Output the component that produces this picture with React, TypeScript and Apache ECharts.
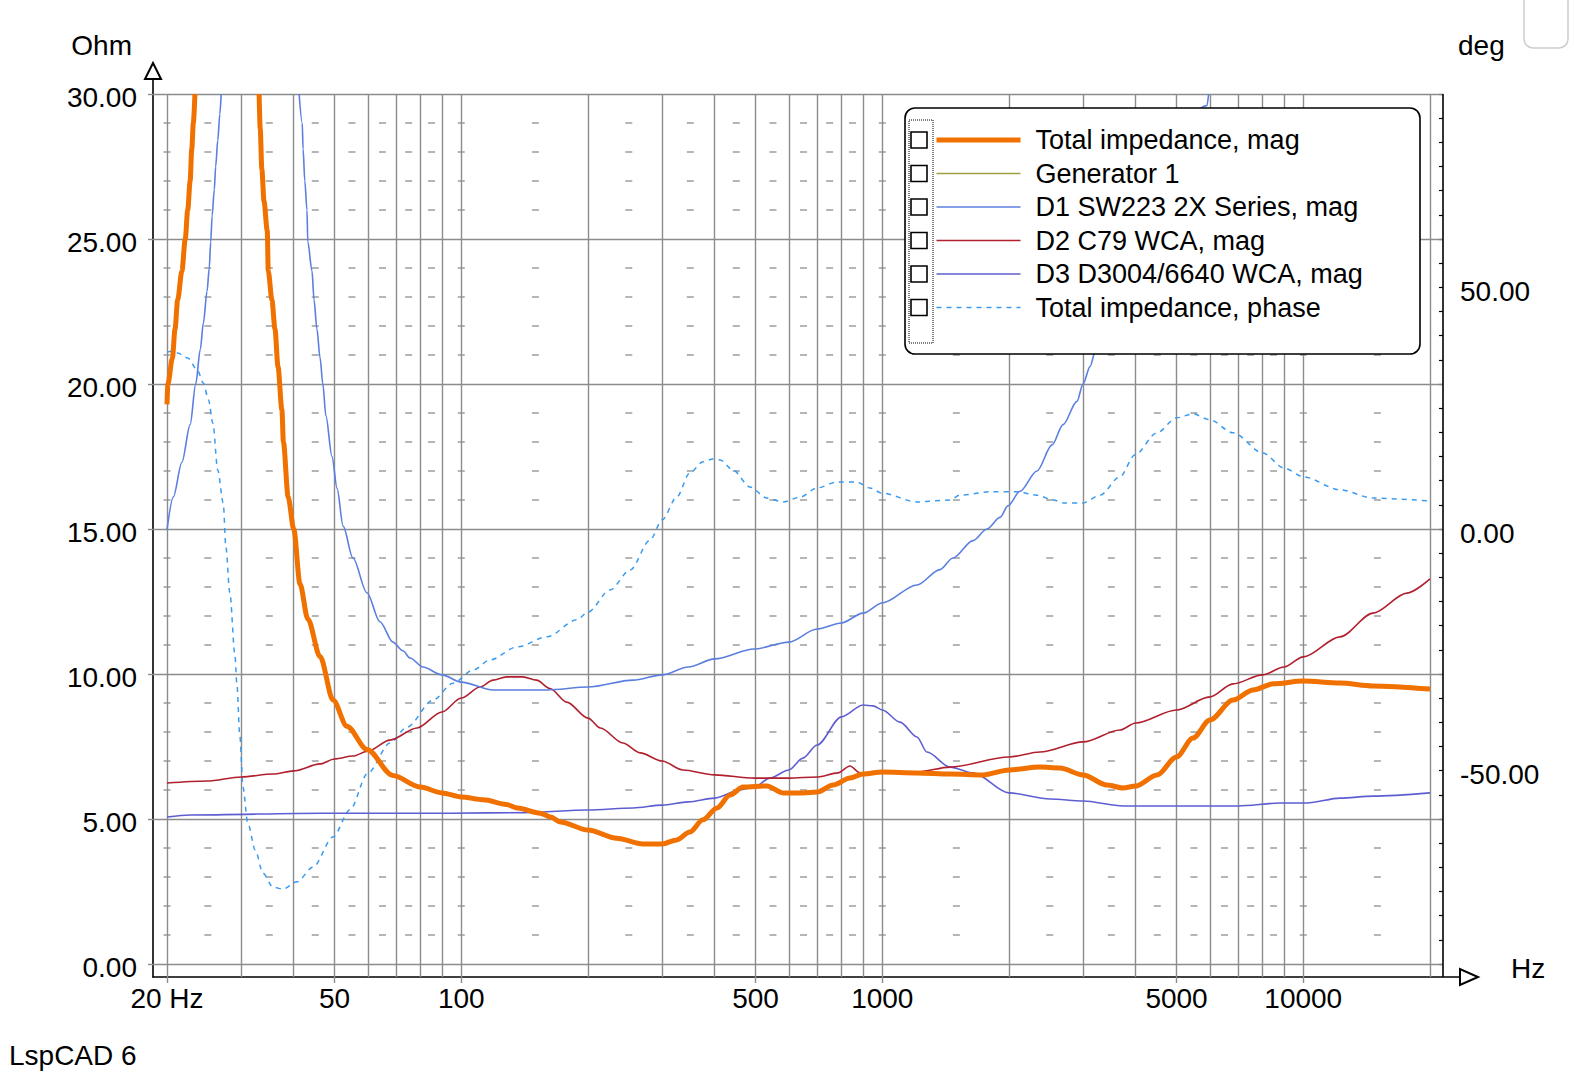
import React, { useEffect, useRef } from "react";
import * as echarts from "echarts";

type Pt = [number, number] | null; // [frequency Hz, value]; null = curve leaves the plot (off-scale)

// ---------- DATA ----------
const totalImpedanceMag: Pt[] = [
  [20, 19.3], [20.1, 20.0], [20.6, 20.9], [20.9, 21.9], [21.2, 22.9], [21.7, 23.9], [22.1, 25.0],
  [22.4, 26.0], [22.7, 27.0], [22.9, 28.1], [23.1, 29.0], [23.3, 30.0],
  null,
  [33.1, 30.0], [33.3, 28.8], [33.6, 27.4], [34.0, 26.3], [34.6, 25.3], [34.8, 23.9], [35.5, 22.9],
  [36.1, 21.9], [36.7, 20.6], [37.5, 19.1], [37.8, 18.0], [38.8, 16.1],
  [40, 15.0], [41.4, 13.1], [43.2, 11.9], [46.2, 10.6], [49.6, 9.1], [53.5, 8.2], [59.7, 7.4],
  [68.8, 6.5], [80, 6.1], [90, 5.9], [100, 5.76], [113, 5.66], [128, 5.5], [136, 5.38], [154, 5.2],
  [163, 5.07], [172, 4.9], [200, 4.62], [234, 4.34], [270, 4.14], [300, 4.14], [325, 4.28],
  [349, 4.55], [375, 4.97], [405, 5.38], [435, 5.83], [467, 6.1], [532, 6.14], [581, 5.9],
  [648, 5.9], [700, 5.93], [764, 6.17], [838, 6.41], [900, 6.55], [1000, 6.62], [1209, 6.59],
  [1449, 6.55], [1735, 6.52], [2000, 6.69], [2370, 6.79], [2643, 6.76], [3000, 6.52], [3418, 6.17],
  [3731, 6.07], [4000, 6.14], [4494, 6.52], [5000, 7.14], [5471, 7.79], [6000, 8.41], [6810, 9.1],
  [7597, 9.45], [8476, 9.66], [10000, 9.76], [12224, 9.69], [14643, 9.59], [20000, 9.48],
];

const generator1: Pt[] = [];

const d1Sw223Mag: Pt[] = [
  [20, 14.97], [20.7, 16.1], [21.7, 17.3], [22.7, 18.6], [23.4, 20.0], [24.0, 21.2], [24.4, 22.1],
  [24.9, 23.2], [25.2, 24.0], [25.4, 24.9], [25.6, 25.8], [25.9, 26.7], [26.1, 27.5], [26.4, 28.4],
  [26.7, 29.3], [26.9, 30.0],
  null,
  [41.2, 30.0], [41.9, 29.0], [42.1, 28.1], [42.5, 27.0], [43.0, 26.0], [43.2, 24.9], [44.2, 23.9],
  [44.7, 22.9], [45.4, 21.9], [46.2, 20.9], [46.9, 20.0], [47.7, 18.9], [49.3, 17.5], [50.7, 16.4],
  [52.4, 15.1], [55.3, 14.0], [59.7, 12.8], [64.1, 11.8], [68.8, 11.1], [72.7, 10.8], [75.6, 10.55],
  [81.1, 10.24], [90, 9.97], [100, 9.72], [119, 9.45], [160, 9.45], [200, 9.55], [256, 9.79],
  [300, 9.97], [346, 10.24], [400, 10.52], [496, 10.86], [600, 11.1], [700, 11.55], [800, 11.76],
  [900, 12.1], [1000, 12.45], [1209, 13.07], [1371, 13.6], [1472, 14.0], [1643, 14.6], [1773, 15.0],
  [1904, 15.4], [1989, 15.8], [2124, 16.3], [2330, 17.0], [2531, 17.9], [2688, 18.6], [2900, 19.4],
  [2998, 20.0], [3116, 20.6], [3202, 21.1], [5906, 29.6], [5960, 30.0],
];

const d2C79Mag: Pt[] = [
  [20, 6.24], [24.9, 6.31], [30, 6.45], [35.7, 6.55], [40, 6.66], [46.2, 6.9], [50, 7.07],
  [55.3, 7.17], [60, 7.34], [67.7, 7.72], [78.5, 8.14], [90, 8.69], [100, 9.17], [110.8, 9.55],
  [119, 9.79], [128, 9.9], [140, 9.9], [151, 9.79], [162.5, 9.5], [178, 9.03], [200, 8.48],
  [214, 8.14], [242, 7.62], [266, 7.28], [300, 7.0], [336, 6.69], [400, 6.52], [496, 6.41],
  [600, 6.41], [700, 6.45], [785, 6.59], [838, 6.83], [885, 6.59], [1000, 6.59], [1209, 6.62],
  [1449, 6.79], [2000, 7.14], [2370, 7.31], [3000, 7.66], [3670, 8.07], [4000, 8.31], [5000, 8.76],
  [6000, 9.21], [6810, 9.66], [8000, 9.97], [9000, 10.24], [10000, 10.59], [12224, 11.28],
  [14643, 12.1], [17634, 12.79], [20000, 13.28],
];

const d3D3004Mag: Pt[] = [
  [20, 5.07], [22.7, 5.14], [47, 5.2], [94, 5.2], [142, 5.22], [200, 5.31], [256, 5.38],
  [300, 5.48], [346, 5.59], [400, 5.72], [459, 6.0], [496, 6.1], [541, 6.41], [600, 6.69],
  [648, 7.1], [700, 7.55], [800, 8.52], [900, 8.93], [951, 8.9], [1000, 8.76], [1102, 8.34],
  [1209, 7.83], [1277, 7.31], [1449, 6.79], [1643, 6.59], [2000, 5.9], [2504, 5.69], [3000, 5.62],
  [3731, 5.45], [4904, 5.45], [6998, 5.45], [8806, 5.55], [10208, 5.55], [12224, 5.72],
  [14643, 5.79], [20000, 5.9],
];

// phase in degrees (right axis)
const totalImpedancePhase: Pt[] = [
  [20, 36.6], [20.5, 36.8], [21.2, 36.4], [22.4, 35.4], [23.6, 32.9], [24.4, 30.2], [25.1, 26.7],
  [25.7, 21.9], [26.4, 12.2], [27.2, 5.4], [27.6, -3.7], [28.2, -13.2], [29.0, -26.0], [29.3, -31.9],
  [29.8, -43.0], [30.3, -53.4], [31.1, -60.8], [32.4, -66.4], [33.8, -71.2], [35.7, -74.1],
  [37.7, -74.5], [40.7, -73.0], [44.5, -69.9], [49.6, -63.7], [54.4, -58.1], [60, -50.5],
  [67.7, -44.3], [74.3, -41.0], [85.7, -35.4], [95.6, -31.9], [106.6, -29.2], [117, -27.1],
  [135.6, -24.4], [160, -22.3], [188, -18.8], [200, -17.2], [225.6, -12.6], [251.7, -8.5],
  [280.8, -2.3], [300, 1.9], [325, 6.6], [349, 11.6], [375, 13.9], [396, 14.5], [412, 14.3],
  [442, 12.2], [485, 8.7], [532, 6.4], [581, 5.6], [638, 6.6], [700, 8.5], [781, 9.7], [871, 9.7],
  [935, 8.5], [1000, 7.4], [1209, 5.6], [1449, 6.0], [1529, 7.0], [1803, 7.7], [2089, 7.7],
  [2330, 7.0], [2550, 6.0], [2688, 5.4], [3000, 5.4], [3290, 7.0], [3670, 10.8], [3980, 15.3],
  [4494, 19.9], [5000, 23.0], [5471, 23.8], [6000, 22.6], [6810, 19.9], [8024, 15.7], [9001, 12.6],
  [10000, 10.8], [12224, 8.1], [14643, 6.4], [20000, 5.8],
];

const FREQ_LABELS = [20, 50, 100, 500, 1000, 5000, 10000];
const OHM_TICKS = [0, 5, 10, 15, 20, 25, 30];
const DEG_LABELS = [-50, 0, 50];
const LEGEND_NAMES = [
  "Total impedance, mag",
  "Generator 1",
  "D1 SW223 2X Series, mag",
  "D2 C79 WCA, mag",
  "D3 D3004/6640 WCA, mag",
  "Total impedance, phase",
];

// ---------- STYLE / LAYOUT ----------
const FONT = '"Liberation Sans", Arial, Helvetica, sans-serif';
const C_ORANGE = "#f07000";
const C_OLIVE = "#a0a040";
const C_D1 = "#5b7fe0";
const C_D2 = "#b0202e";
const C_D3 = "#5e5ed2";
const C_PHASE = "#3a9cf0";
const C_GRID = "#8c8c8c";

// pixel calibration of the frame
const FRAME = { left: 153, right: 1469, top: 71, bottom: 977, border: 1443 };
const CAL = { x20: 167, pxPerDecade: 421, y0: 964, pxPerOhm: 29 };
const OHM_MAX_GRID = 30;
const DEG_AT_OHM0 = -90;
const DEG_PER_OHM = 6;

const lg = (f: number) => Math.log10(f);
const X_MIN = lg(20) - (CAL.x20 - FRAME.left) / CAL.pxPerDecade;
const X_MAX = lg(20) + (FRAME.right - CAL.x20) / CAL.pxPerDecade;
const X_BORDER = lg(20) + (FRAME.border - CAL.x20) / CAL.pxPerDecade;
const Y_MIN = -(FRAME.bottom - CAL.y0) / CAL.pxPerOhm;
const Y_MAX = (CAL.y0 - FRAME.top) / CAL.pxPerOhm;
const DEG_MIN = DEG_AT_OHM0 + Y_MIN * DEG_PER_OHM;
const DEG_MAX = DEG_AT_OHM0 + Y_MAX * DEG_PER_OHM;

const toData = (pts: Pt[]) => pts.map((p) => (p ? [lg(p[0]), p[1]] : "-"));

// grid line frequencies: 20..90, 100..900, 1000..9000, 10000, 20000
const gridFreqs: number[] = [];
[10, 100, 1000, 10000].forEach((d) => {
  for (let n = 1; n <= 9; n++) {
    const f = n * d;
    if (f >= 20 && f <= 20000) gridFreqs.push(f);
  }
});
// minor dash columns
const dashFreqs: number[] = [20];
[10, 100, 1000, 10000].forEach((d) => {
  if (d >= 100) dashFreqs.push(d);
  for (let n = 1; n <= 8; n++) {
    const f = (n + 0.5) * d;
    if (f >= 20 && f <= 20000) dashFreqs.push(f);
  }
});
const dashData: number[][] = [];
dashFreqs.forEach((f) => {
  for (let v = 1; v < 30; v++) if (v % 5 !== 0) dashData.push([lg(f), v]);
});

const fmtFreq = (v: number) => {
  const f = Math.round(Math.pow(10, v));
  return f === 20 ? "20 Hz" : String(f);
};

export default function App() {
  const ref = useRef<HTMLDivElement>(null);
  useEffect(() => {
    if (!ref.current) return;
    const chart = echarts.init(ref.current, null, { renderer: "svg" });

    const lineBase = {
      type: "line",
      symbol: "none",
      showSymbol: false,
      smooth: 0.3,
      smoothMonotone: "x",
      connectNulls: false,
      silent: true,
      emphasis: { disabled: true },
      animation: false,
    };

    const markLineData: any[] = [];
    gridFreqs.forEach((f) =>
      markLineData.push([{ coord: [lg(f), Y_MIN] }, { coord: [lg(f), OHM_MAX_GRID] }])
    );
    OHM_TICKS.forEach((v) => markLineData.push([{ coord: [X_MIN, v] }, { coord: [X_BORDER, v] }]));
    markLineData.push([
      { coord: [X_BORDER, Y_MIN], lineStyle: { color: "#000", width: 1.6, type: "solid" } },
      { coord: [X_BORDER, OHM_MAX_GRID] },
    ]);

    const rowY = (i: number) => 140 + i * 33.5;

    const option: any = {
      animation: false,
      backgroundColor: "#ffffff",
      textStyle: { fontFamily: FONT },
      title: {
        text: "LspCAD 6",
        left: 9,
        top: 1041,
        padding: 0,
        textStyle: { fontFamily: FONT, fontSize: 28, fontWeight: "normal", color: "#000" },
      },
      grid: {
        left: FRAME.left,
        top: FRAME.top,
        width: FRAME.right - FRAME.left,
        height: FRAME.bottom - FRAME.top,
        containLabel: false,
        outerBoundsMode: "none",
      },
      legend: {
        data: LEGEND_NAMES,
        orient: "vertical",
        left: 934,
        top: 125,
        padding: 0,
        itemWidth: 84,
        itemHeight: 14,
        itemGap: 3.5,
        selectedMode: false,
        z: 4,
        itemStyle: { opacity: 0 },
        lineStyle: { width: "inherit" },
        textStyle: {
          fontFamily: FONT,
          fontSize: 27,
          color: "#000",
          lineHeight: 30,
          padding: [0, 0, 0, 10],
        },
      },
      xAxis: {
        type: "value",
        min: X_MIN,
        max: X_MAX,
        name: "Hz",
        nameLocation: "end",
        nameGap: 42,
        nameMoveOverlap: false,
        nameTextStyle: {
          fontFamily: FONT,
          fontSize: 28,
          color: "#000",
          verticalAlign: "bottom",
          lineHeight: 18,
        },
        axisLine: {
          show: true,
          onZero: false,
          symbol: ["none", "emptyTriangle"],
          symbolSize: [16, 18],
          lineStyle: { color: "#000", width: 1.6 },
        },
        axisTick: {
          show: true,
          customValues: FREQ_LABELS.map(lg),
          length: 6,
          lineStyle: { color: C_GRID, width: 1.4 },
        },
        axisLabel: {
          customValues: FREQ_LABELS.map(lg),
          formatter: fmtFreq,
          fontFamily: FONT,
          fontSize: 28,
          color: "#000",
          margin: 7,
        },
        splitLine: { show: false },
      },
      yAxis: [
        {
          type: "value",
          min: Y_MIN,
          max: Y_MAX,
          position: "left",
          name: "Ohm",
          nameLocation: "end",
          nameGap: 12,
          nameMoveOverlap: false,
          nameTextStyle: {
            fontFamily: FONT,
            fontSize: 28,
            color: "#000",
            align: "right",
            padding: [0, 21, 0, 0],
          },
          axisLine: {
            show: true,
            onZero: false,
            symbol: ["none", "emptyTriangle"],
            symbolSize: [16, 16],
            lineStyle: { color: "#000", width: 1.6 },
          },
          axisTick: {
            show: true,
            customValues: OHM_TICKS,
            length: 5,
            lineStyle: { color: C_GRID, width: 1.4 },
          },
          axisLabel: {
            customValues: OHM_TICKS,
            formatter: (v: number) => v.toFixed(2),
            fontFamily: FONT,
            fontSize: 28,
            color: "#000",
            margin: 16,
            verticalAlign: "top",
            lineHeight: 6,
          },
          splitLine: { show: false },
        },
        {
          type: "value",
          min: DEG_MIN,
          max: DEG_MAX,
          position: "right",
          offset: FRAME.border - FRAME.right,
          name: "deg",
          nameLocation: "end",
          nameGap: 12,
          nameMoveOverlap: false,
          nameTextStyle: {
            fontFamily: FONT,
            fontSize: 28,
            color: "#000",
            align: "left",
            padding: [0, 0, 0, 15],
          },
          axisLine: { show: false, onZero: false },
          axisTick: {
            show: true,
            inside: true,
            customValues: Array.from({ length: 37 }, (_, i) => -90 + i * 5),
            length: 4,
            lineStyle: { color: "#000", width: 1.2 },
          },
          axisLabel: {
            customValues: DEG_LABELS,
            formatter: (v: number) => v.toFixed(2),
            fontFamily: FONT,
            fontSize: 28,
            color: "#000",
            margin: 17,
            verticalAlign: "top",
            lineHeight: 8,
          },
          splitLine: { show: false },
        },
      ],
      series: [
        {
          name: "grid",
          type: "scatter",
          data: dashData,
          symbol: "rect",
          symbolSize: [7, 1.6],
          itemStyle: { color: C_GRID },
          silent: true,
          z: 1,
          emphasis: { disabled: true },
          markLine: {
            silent: true,
            symbol: ["none", "none"],
            label: { show: false },
            z: 1,
            animation: false,
            lineStyle: { color: C_GRID, width: 1.4, type: "solid" },
            emphasis: { disabled: true },
            data: markLineData,
          },
        },
        {
          ...lineBase,
          name: "Total impedance, phase",
          yAxisIndex: 1,
          data: toData(totalImpedancePhase),
          lineStyle: { color: C_PHASE, width: 1.5, type: [5, 5] },
          itemStyle: { color: C_PHASE },
          z: 2,
        },
        {
          ...lineBase,
          name: "D3 D3004/6640 WCA, mag",
          data: toData(d3D3004Mag),
          lineStyle: { color: C_D3, width: 1.6 },
          itemStyle: { color: C_D3 },
          z: 2,
        },
        {
          ...lineBase,
          name: "D2 C79 WCA, mag",
          data: toData(d2C79Mag),
          lineStyle: { color: C_D2, width: 1.6 },
          itemStyle: { color: C_D2 },
          z: 2,
        },
        {
          ...lineBase,
          name: "D1 SW223 2X Series, mag",
          data: toData(d1Sw223Mag),
          lineStyle: { color: C_D1, width: 1.6 },
          itemStyle: { color: C_D1 },
          z: 2,
        },
        {
          ...lineBase,
          name: "Generator 1",
          data: toData(generator1),
          lineStyle: { color: C_OLIVE, width: 1.6 },
          itemStyle: { color: C_OLIVE },
          z: 2,
        },
        {
          ...lineBase,
          name: "Total impedance, mag",
          data: toData(totalImpedanceMag),
          lineStyle: { color: C_ORANGE, width: 5 },
          itemStyle: { color: C_ORANGE },
          z: 2,
        },
      ],
      graphic: [
        {
          type: "rect",
          z: 3,
          silent: true,
          shape: { x: 905, y: 108, width: 515, height: 246, r: 10 },
          style: { fill: "#fff", stroke: "#000", lineWidth: 1.6 },
        },
        {
          type: "rect",
          z: 5,
          silent: true,
          shape: { x: 909, y: 120, width: 24, height: 223 },
          style: { fill: "none", stroke: "#000", lineWidth: 1, lineDash: [1, 1] },
        },
        ...LEGEND_NAMES.map((_, i) => ({
          type: "rect",
          z: 6,
          silent: true,
          shape: { x: 911, y: rowY(i) - 8, width: 16, height: 16 },
          style: { fill: "#fff", stroke: "#000", lineWidth: 1.6 },
        })),
        {
          type: "rect",
          z: 6,
          silent: true,
          shape: { x: 1524, y: -12, width: 44, height: 60, r: 9 },
          style: { fill: "none", stroke: "#cdcdcd", lineWidth: 1.5 },
        },
      ],
    };

    chart.setOption(option);
    return () => {
      chart.dispose();
    };
  }, []);

  return (
    <div
      ref={ref}
      style={{ position: "absolute", left: 0, top: 0, width: 1574, height: 1080, background: "#fff" }}
    />
  );
}
